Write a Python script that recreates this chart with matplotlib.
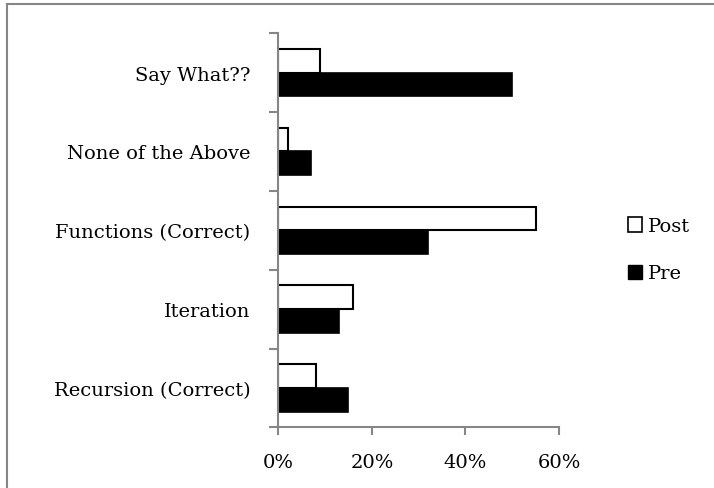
import matplotlib
matplotlib.use("Agg")
import matplotlib.pyplot as plt
import numpy as np
from matplotlib.patches import Patch
from matplotlib.lines import Line2D
from matplotlib.ticker import FuncFormatter

categories = ["Recursion (Correct)", "Iteration", "Functions (Correct)",
              "None of the Above", "Say What??"]
post = [8, 16, 55, 2, 9]
pre = [15, 13, 32, 7, 50]
x_ticks = [0, 20, 40, 60]

plt.rcParams["font.family"] = ["DejaVu Serif"]
GRAY = "#868686"
FS = 14

fig = plt.figure(figsize=(7.14, 4.89), dpi=100)
ax = fig.add_axes([0.3898, 0.1241, 0.3931, 0.8058])

y = np.arange(len(categories))
h = 0.3
ax.barh(y - h / 2, pre, height=h, color="black", edgecolor="black", linewidth=1.2, label="Pre")
ax.barh(y + h / 2, post, height=h, color="white", edgecolor="black", linewidth=1.5, label="Post")

ax.set_xlim(0, 60)
ax.set_ylim(-0.5, len(categories) - 0.5)
ax.set_xticks(x_ticks)
ax.xaxis.set_major_formatter(FuncFormatter(lambda v, p: f"{v:.0f}%"))
ax.set_yticks(y)
ax.set_yticklabels(categories)
ax.set_yticks(np.arange(-0.5, len(categories)), minor=True)

for s in ["top", "right"]:
    ax.spines[s].set_visible(False)
for s in ["left", "bottom"]:
    ax.spines[s].set_color(GRAY)
    ax.spines[s].set_linewidth(1.5)

ax.tick_params(axis="y", which="major", length=0, pad=20, labelsize=FS)
ax.tick_params(axis="y", which="minor", length=6.5, width=1.5, color=GRAY, direction="out")
ax.tick_params(axis="x", which="major", length=5.5, width=1.5, color=GRAY, direction="out",
               pad=13, labelsize=FS)

handles = [Patch(facecolor="white", edgecolor="black", linewidth=1.2, label="Post"),
           Patch(facecolor="black", edgecolor="black", label="Pre")]
fig.legend(handles=handles, loc="center left", bbox_to_anchor=(0.868, 0.487),
           frameon=False, fontsize=FS, handlelength=0.75, handleheight=0.75,
           handletextpad=0.3, labelspacing=1.5, borderaxespad=0)

# outer chart frame (only top and left edges are visible in the crop)
fig.add_artist(Line2D([7 / 714, 1], [1 - 5 / 489, 1 - 5 / 489], color=GRAY, lw=1.5,
                      transform=fig.transFigure))
fig.add_artist(Line2D([7 / 714, 7 / 714], [0, 1 - 5 / 489], color=GRAY, lw=1.5,
                      transform=fig.transFigure))

fig.savefig("out.png", dpi=100, facecolor="white")
